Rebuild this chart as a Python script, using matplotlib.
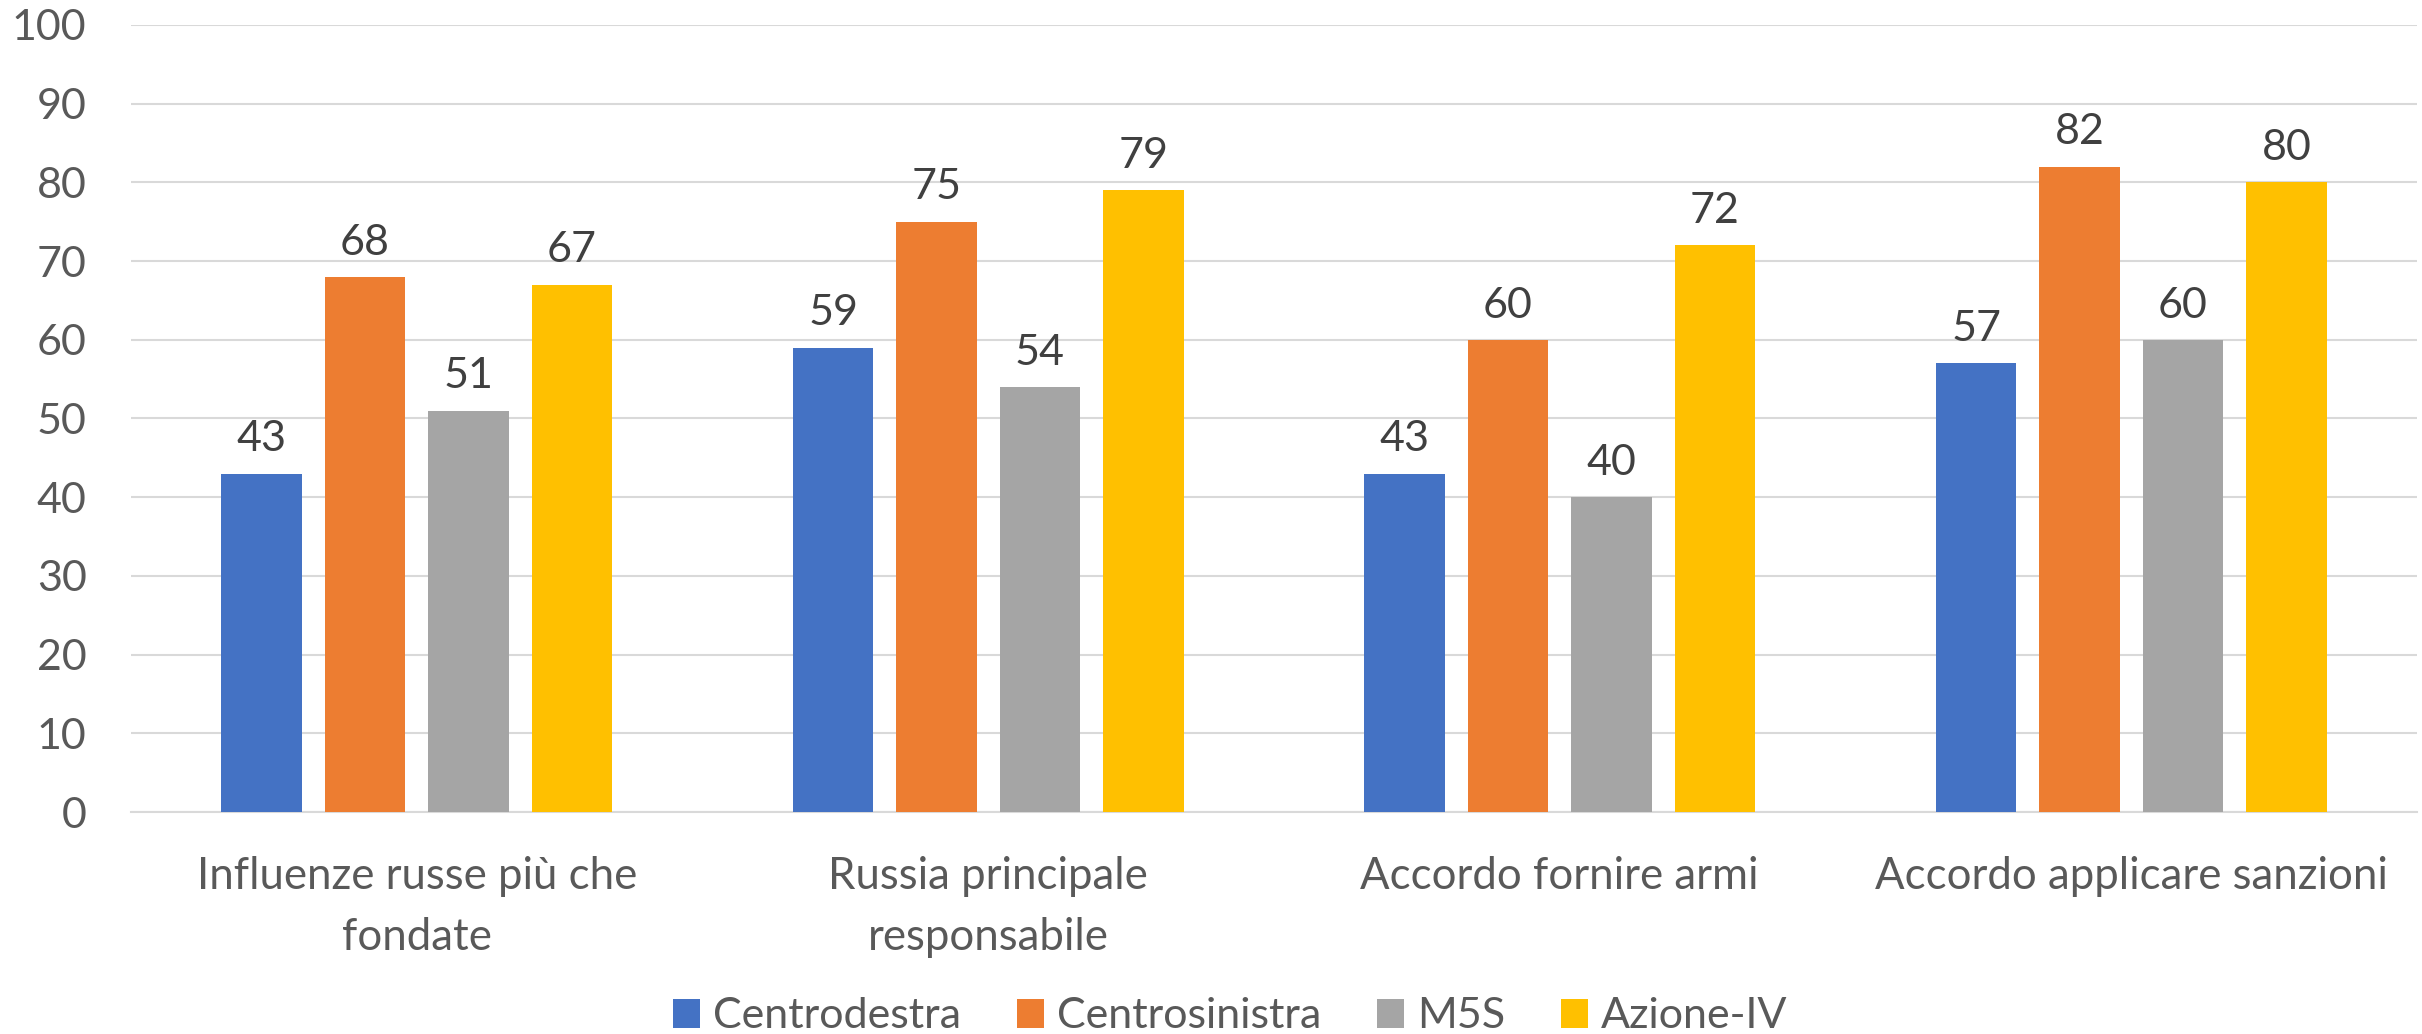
import matplotlib
matplotlib.use("Agg")
import matplotlib.pyplot as plt
import numpy as np

categories = ["Influenze russe più che\nfondate", "Russia principale\nresponsabile",
              "Accordo fornire armi", "Accordo applicare sanzioni"]
series_names = ["Centrodestra", "Centrosinistra", "M5S", "Azione-IV"]
centrodestra = [43, 59, 43, 57]
centrosinistra = [68, 75, 60, 82]
m5s = [51, 54, 40, 60]
azione_iv = [67, 79, 72, 80]
yticks = [0, 10, 20, 30, 40, 50, 60, 70, 80, 90, 100]

colors = ["#4472C4", "#ED7D31", "#A5A5A5", "#FFC000"]
series = [centrodestra, centrosinistra, m5s, azione_iv]

plt.rcParams['font.family'] = ['Lato', 'DejaVu Sans']
FS = 31

fig = plt.figure(figsize=(24.22, 10.34), dpi=100)
ax = fig.add_axes([131/2422, 1-812/1034, (2417-131)/2422, (812-25)/1034])

x = np.arange(len(categories))
step = 0.181
width = 0.141
for i, (vals, col, name) in enumerate(zip(series, colors, series_names)):
    pos = x + (i - 1.5) * step
    bars = ax.bar(pos, vals, width=width, color=col, label=name, zorder=3)
    for b, v in zip(bars, vals):
        ax.annotate(str(v), (b.get_x() + b.get_width()/2, v), xytext=(0, 11),
                    textcoords="offset points", ha="center", va="bottom",
                    fontsize=FS, color="#404040")

ax.set_xlim(-0.5, 3.5)
ax.set_ylim(0, 100)
ax.set_yticks(yticks)
ax.set_xticks(x)
ax.set_xticklabels(categories, fontsize=31.5, color="#595959", linespacing=1.58)
ax.tick_params(axis='y', length=0, pad=32, labelsize=FS, labelcolor="#595959")
ax.tick_params(axis='x', length=0, pad=32)
ax.grid(axis='y', color="#D9D9D9", linewidth=1.5, zorder=0)
for s in ["top", "right", "left"]:
    ax.spines[s].set_visible(False)
ax.spines["bottom"].set_color("#D9D9D9")
ax.spines["bottom"].set_linewidth(1.5)

leg = fig.legend(loc="center", bbox_to_anchor=(1230/2422, 1-1016.5/1034), ncol=4,
                 frameon=False, fontsize=FS, handlelength=0.63, handleheight=0.65,
                 handletextpad=0.3, columnspacing=1.3, borderpad=0)
for t in leg.get_texts():
    t.set_color("#595959")

fig.savefig("out.png", dpi=100)
